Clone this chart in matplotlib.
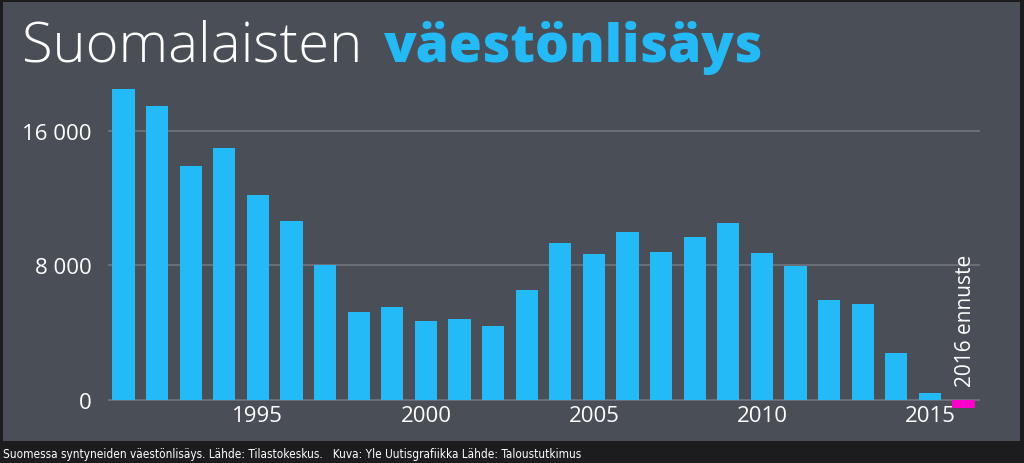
import matplotlib
matplotlib.use("Agg")
import matplotlib.pyplot as plt
from matplotlib import font_manager

# population growth (births minus deaths), Finland
years = list(range(1991, 2017))
growth = [18480, 17490, 13920, 14950, 12180, 10650, 8030, 5230, 5500, 4660,
          4800, 4400, 6540, 9300, 8650, 9990, 8770, 9680, 10510, 8730,
          7970, 5930, 5670, 2760, 420, -500]
yticks = [0, 8000, 16000]
ytick_labels = ["0", "8 000", "16 000"]
xticks = [1995, 2000, 2005, 2010, 2015]

bg = "#4a4e57"
outer = "#1c1c1e"
cyan = "#22bbf8"
magenta = "#ff00cc"
grid = "#6e727b"
font = ["Open Sans", "DejaVu Sans"]

# narrow font for the caption if there is one
names = set(f.name for f in font_manager.fontManager.ttflist)
narrow = "Liberation Sans Narrow" if "Liberation Sans Narrow" in names else "DejaVu Sans"

fig = plt.figure(figsize=(10.24, 4.64), dpi=100, facecolor=outer)
# the grey panel
panel = fig.add_axes([3/1024, 22/464, 1017/1024, 439/464])
panel.set_facecolor(bg)
panel.set_xticks([])
panel.set_yticks([])
for s in panel.spines.values():
    s.set_visible(False)

ax = fig.add_axes([108/1024, (464-409.1)/464, 872/1024, 327.8/464])
ax.patch.set_alpha(0)
for y in yticks:
    ax.axhline(y, color=grid, lw=1.3, zorder=1)
colors = [cyan]*(len(years)-1) + [magenta]
ax.bar(years, growth, width=0.66, color=colors, zorder=2)
ax.set_xlim(1990.54, 2016.49)
ax.set_ylim(-500, 19000)
ax.set_yticks(yticks)
ax.set_yticklabels(ytick_labels)
ax.set_xticks(xticks)
ax.tick_params(length=0, labelcolor="white", labelsize=16)
ax.tick_params(axis="y", pad=12)
ax.tick_params(axis="x", pad=-2)
for lab in ax.get_xticklabels() + ax.get_yticklabels():
    lab.set_family(font)
for s in ax.spines.values():
    s.set_visible(False)

ax.text(2016.05, 800, "2016 ennuste", rotation=90, ha="center", va="bottom",
        color="white", fontsize=15, family=font)

# title in two parts
t1 = fig.text(22/1024, 1 - 62/464, "Suomalaisten", color="white", fontsize=40.5,
              family=font, weight="light", va="baseline")
fig.canvas.draw()
bb = t1.get_window_extent()
fig.text((bb.x1 + 22)/1024, 1 - 62/464, "väestönlisäys", color=cyan, fontsize=38.5,
         family=font, weight="heavy", va="baseline")

fig.text(3/1024, 9/464,
         "Suomessa syntyneiden väestönlisäys. Lähde: Tilastokeskus.   Kuva: Yle Uutisgrafiikka Lähde: Taloustutkimus",
         color="white", fontsize=8.5, family=[narrow, "DejaVu Sans"],
         stretch="condensed", va="center")

fig.savefig("out.png", dpi=100, facecolor=outer)
